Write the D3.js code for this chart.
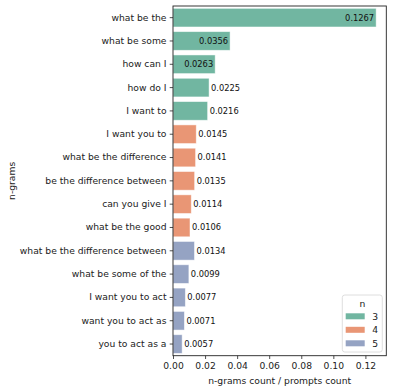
<!DOCTYPE html>
<html>
<head>
<meta charset="utf-8">
<script src="https://cdn.jsdelivr.net/npm/d3@7"></script>
<style>
body{margin:0;background:#fff;}
svg{display:block;font-family:"DejaVu Sans",sans-serif;}
</style>
</head>
<body>
<svg id="chart" width="393" height="392"></svg>
<script>
const categories = ["what be the","what be some","how can I","how do I","I want to",
  "I want you to","what be the difference","be the difference between","can you give I","what be the good",
  "what be the difference between","what be some of the","I want you to act","want you to act as","you to act as a"];
const values = [0.1267,0.0356,0.0263,0.0225,0.0216,0.0145,0.0141,0.0135,0.0114,0.0106,0.0134,0.0099,0.0077,0.0071,0.0057];
const groups = [3,3,3,3,3,4,4,4,4,4,5,5,5,5,5];
const legendKeys = [3,4,5];
const xTicks = [0,0.02,0.04,0.06,0.08,0.10,0.12];

const colors = {3:"#71b6a1",4:"#e99675",5:"#95a3c3"};
const svg = d3.select("#chart");
const L=173, R=386.3, T=6, B=355.7;
const x = d3.scaleLinear().domain([0, d3.max(values)*1.05]).range([L,R]);
const y = d3.scaleBand().domain(categories).range([T,B]).paddingInner(0.2).paddingOuter(0.1);

const g = svg.append("g");
g.selectAll("rect.bar").data(categories).join("rect")
  .attr("class","bar")
  .attr("x", x(0))
  .attr("y", d=>y(d))
  .attr("width", (d,i)=>x(values[i])-x(0))
  .attr("height", y.bandwidth())
  .attr("fill", (d,i)=>colors[groups[i]])
  .attr("stroke", "#ffffff").attr("stroke-opacity",0.6).attr("stroke-width",0.8);

g.selectAll("text.val").data(categories).join("text")
  .attr("class","val")
  .attr("x", (d,i)=> values[i]>0.025 ? x(values[i])-2 : x(values[i])+2)
  .attr("y", d=>y(d)+y.bandwidth()/2)
  .attr("dy","0.35em")
  .attr("text-anchor",(d,i)=> values[i]>0.025 ? "end":"start")
  .attr("font-size","8.3px").attr("fill","#111")
  .text((d,i)=>values[i].toFixed(4));

// axes
const xAxis = d3.axisBottom(x).tickValues(xTicks).tickFormat(d3.format(".2f")).tickSize(3.3).tickPadding(3);
const gx = svg.append("g").attr("transform",`translate(0,${B})`).call(xAxis);
gx.select(".domain").remove();
gx.selectAll("text").attr("font-size","9.2px").attr("fill","#222").attr("font-family","DejaVu Sans");
gx.selectAll("line").attr("stroke","#222").attr("stroke-width",0.8);

const yAxis = d3.axisLeft(y).tickSize(3.3).tickPadding(3.2);
const gy = svg.append("g").attr("transform",`translate(${L},0)`).call(yAxis);
gy.select(".domain").remove();
gy.selectAll("text").attr("font-size","9.2px").attr("fill","#222").attr("font-family","DejaVu Sans");
gy.selectAll("line").attr("stroke","#222").attr("stroke-width",0.8);

svg.append("rect").attr("x",L).attr("y",T).attr("width",R-L).attr("height",B-T)
  .attr("fill","none").attr("stroke","#222").attr("stroke-width",0.9);

svg.append("text").attr("x",(L+R)/2).attr("y",384).attr("text-anchor","middle")
  .attr("font-size","9.2px").attr("fill","#222").text("n-grams count / prompts count");
svg.append("text").attr("transform",`translate(15,${(T+B)/2}) rotate(-90)`).attr("text-anchor","middle")
  .attr("font-size","9.2px").attr("fill","#222").text("n-grams");

// legend
const lg = svg.append("g");
lg.append("rect").attr("x",342.3).attr("y",295).attr("width",40).attr("height",57).attr("rx",2.5)
  .attr("fill","#fff").attr("fill-opacity",0.8).attr("stroke","#d6d6d6").attr("stroke-width",0.8);
lg.append("text").attr("x",362.3).attr("y",304).attr("dy","0.35em").attr("text-anchor","middle")
  .attr("font-size","9.2px").attr("fill","#222").text("n");
const ly = d3.scalePoint().domain(legendKeys).range([316.3,343.3]);
lg.selectAll("rect.key").data(legendKeys).join("rect").attr("class","key")
  .attr("x",345.7).attr("y",d=>ly(d)-3).attr("width",19).attr("height",6).attr("fill",d=>colors[d]);
lg.selectAll("text.key").data(legendKeys).join("text").attr("class","key")
  .attr("x",372.3).attr("y",d=>ly(d)).attr("dy","0.35em")
  .attr("font-size","9.2px").attr("fill","#222").text(d=>d);
</script>
</body>
</html>
